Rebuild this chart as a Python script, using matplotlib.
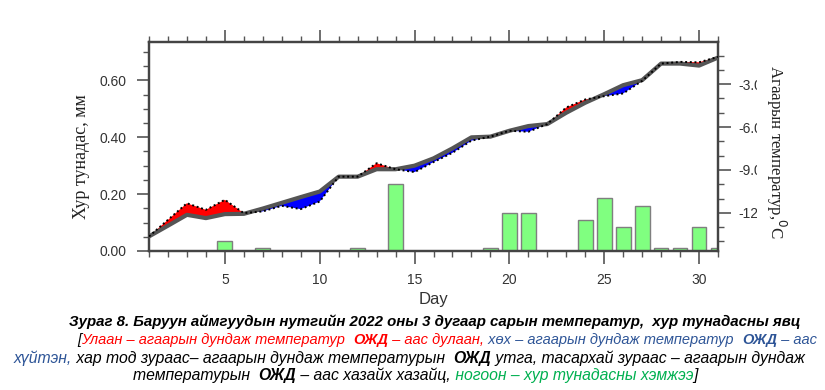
import numpy as np
import matplotlib
matplotlib.use("Agg")
import matplotlib.pyplot as plt
from matplotlib.ticker import FixedLocator, MultipleLocator
from matplotlib.offsetbox import TextArea, HPacker, AnchoredOffsetbox
from matplotlib.transforms import Bbox, TransformedBbox

days = np.arange(1, 32)

# daily precipitation, mm
precip = [0, 0, 0, 0, 0.035, 0, 0.01, 0, 0, 0, 0, 0.01, 0, 0.235, 0,
          0, 0, 0, 0.01, 0.135, 0.135, 0, 0, 0.109, 0.185, 0.084, 0.158,
          0.01, 0.01, 0.084, 0.01]

# climate normal (ОЖД) of mean temperature, C
t_norm = [-13.65, -12.9, -12.14, -12.37, -12.09, -12.07, -11.7, -11.3,
          -10.9, -10.51, -9.47, -9.47, -8.95, -8.95, -8.7, -8.19, -7.49,
          -6.72, -6.67, -6.26, -5.93, -5.79, -5.0, -4.3, -3.7, -3.07,
          -2.72, -1.56, -1.56, -1.70, -1.14]

# observed mean temperature, C
t_obs = [-13.65, -12.49, -11.33, -11.79, -11.09, -12.02, -11.9, -11.51,
         -11.74, -11.21, -9.47, -9.47, -8.53, -8.95, -9.15, -8.45, -7.8,
         -6.95, -6.67, -6.26, -6.33, -5.79, -4.63, -4.07, -3.84, -3.65,
         -2.77, -1.56, -1.44, -1.47, -1.09]

temp_ticks = [-3.0, -6.0, -9.0, -12.0]
temp_labels = ["-3.0", "-6.0", "-9.0", "-12"]
precip_ticks = [0.0, 0.2, 0.4, 0.6]

W, H = 825, 390
fig = plt.figure(figsize=(W / 100, H / 100), dpi=100)
ax = fig.add_axes([149 / W, 1 - 251 / H, (718 - 149) / W, (251 - 42) / H])
ax2 = ax.twinx()

tick_col = "#555555"
lab_col = "#333333"

ax.bar(days, precip, width=0.78, color="#80ff80", edgecolor="#7f7f7f",
       linewidth=1.0, zorder=2)
ax.set_xlim(1, 31)
ax.set_ylim(0, 0.735)
ax.yaxis.set_major_locator(FixedLocator(precip_ticks))
ax.yaxis.set_minor_locator(MultipleLocator(0.05))
ax.set_yticklabels(["%.2f" % v for v in precip_ticks])
ax.xaxis.set_minor_locator(MultipleLocator(1))
ax.set_xticks([5, 10, 15, 20, 25, 30])

tn = np.array(t_norm)
to = np.array(t_obs)
ax2.fill_between(days, tn, to, where=to >= tn, interpolate=True,
                 color="#ff0000", linewidth=0, zorder=2)
ax2.fill_between(days, tn, to, where=to <= tn, interpolate=True,
                 color="#0000ff", linewidth=0, zorder=2)
ax2.plot(days, tn, color="#555555", lw=3.0, solid_capstyle="round", zorder=3)
ax2.plot(days, to, color="black", lw=1.4, ls=(0, (1, 1.4)), zorder=4)
ax2.set_ylim(-14.67, -0.05)
ax2.yaxis.set_major_locator(FixedLocator(temp_ticks))
ax2.yaxis.set_minor_locator(MultipleLocator(1))
ax2.set_yticklabels(temp_labels)

for a in (ax, ax2):
    for s in a.spines.values():
        s.set_color("#444444")
        s.set_linewidth(1.6)
    a.tick_params(which="major", length=9, width=1.2, color=tick_col,
                  direction="out", labelsize=10, labelcolor=lab_col,
                  labelfontfamily="Liberation Sans")
    a.tick_params(which="minor", length=4.5, width=1.0, color=tick_col,
                  direction="out")
ax.tick_params(axis="x", which="both", top=True, pad=6.5)
ax.tick_params(axis="y", which="both", pad=7)
ax2.tick_params(axis="y", which="both", pad=6)

ax.set_xlabel("Day", fontsize=12, family="Liberation Sans", color=lab_col,
              labelpad=4)
fig.text(82 / W, 1 - 157 / H, "Хур тунадас, мм", rotation=90,
         family="Liberation Serif", fontsize=13, ha="center", va="center",
         color="#222222")
fig.text(776 / W, 1 - 152 / H, "Агаарын температур,$^{0}$С", rotation=270,
         family="Liberation Serif", fontsize=12.2, ha="center", va="center",
         color="#222222")

# clip the right tick labels like in the original
clip = TransformedBbox(Bbox([[0, 0], [757 / W, 1]]), fig.transFigure)
for t in ax2.yaxis.get_major_ticks():
    t.label2.set_clip_box(clip)
    t.label2.set_clip_on(True)

# caption, segments: (text, colour, bold)
red = "#ff0000"
blue = "#2e5597"
green = "#00b050"
blk = "black"
caption = [
    [("Зураг 8. Баруун аймгуудын нутгийн 2022 оны 3 дугаар сарын температур,  хур тунадасны явц", blk, True)],
    [("[", blk, False), ("Улаан – агаарын дундаж температур  ", red, False),
     ("ОЖД", red, True), (" – аас дулаан,", red, False),
     (" хөх – агаарын дундаж температур  ", blue, False), ("ОЖД", blue, True),
     (" – аас", blue, False)],
    [("хүйтэн,", blue, False),
     (" хар тод зураас– агаарын дундаж температурын  ", blk, False),
     ("ОЖД", blk, True),
     (" утга, тасархай зураас – агаарын дундаж", blk, False)],
    [("температурын  ", blk, False), ("ОЖД", blk, True),
     (" – аас хазайх хазайц,", blk, False),
     (" ногоон – хур тунадасны хэмжээ", green, False), ("]", blk, False)],
]
line_size = [10.8, 10.5, 11.3, 11.3]
line_y = [322, 340, 358, 375]
line_x = [435, 447, 409, 415]
for parts, y, x, fs in zip(caption, line_y, line_x, line_size):
    boxes = [TextArea(s, textprops=dict(color=c, family="Liberation Sans",
                                        style="italic", fontsize=fs,
                                        weight="bold" if b else "normal"))
             for s, c, b in parts]
    pack = HPacker(children=boxes, sep=0, pad=0, align="baseline")
    ab = AnchoredOffsetbox(loc="center", child=pack, frameon=False, pad=0,
                           borderpad=0, bbox_to_anchor=(x / W, 1 - y / H),
                           bbox_transform=fig.transFigure)
    fig.add_artist(ab)

fig.savefig("out.png", dpi=100)
